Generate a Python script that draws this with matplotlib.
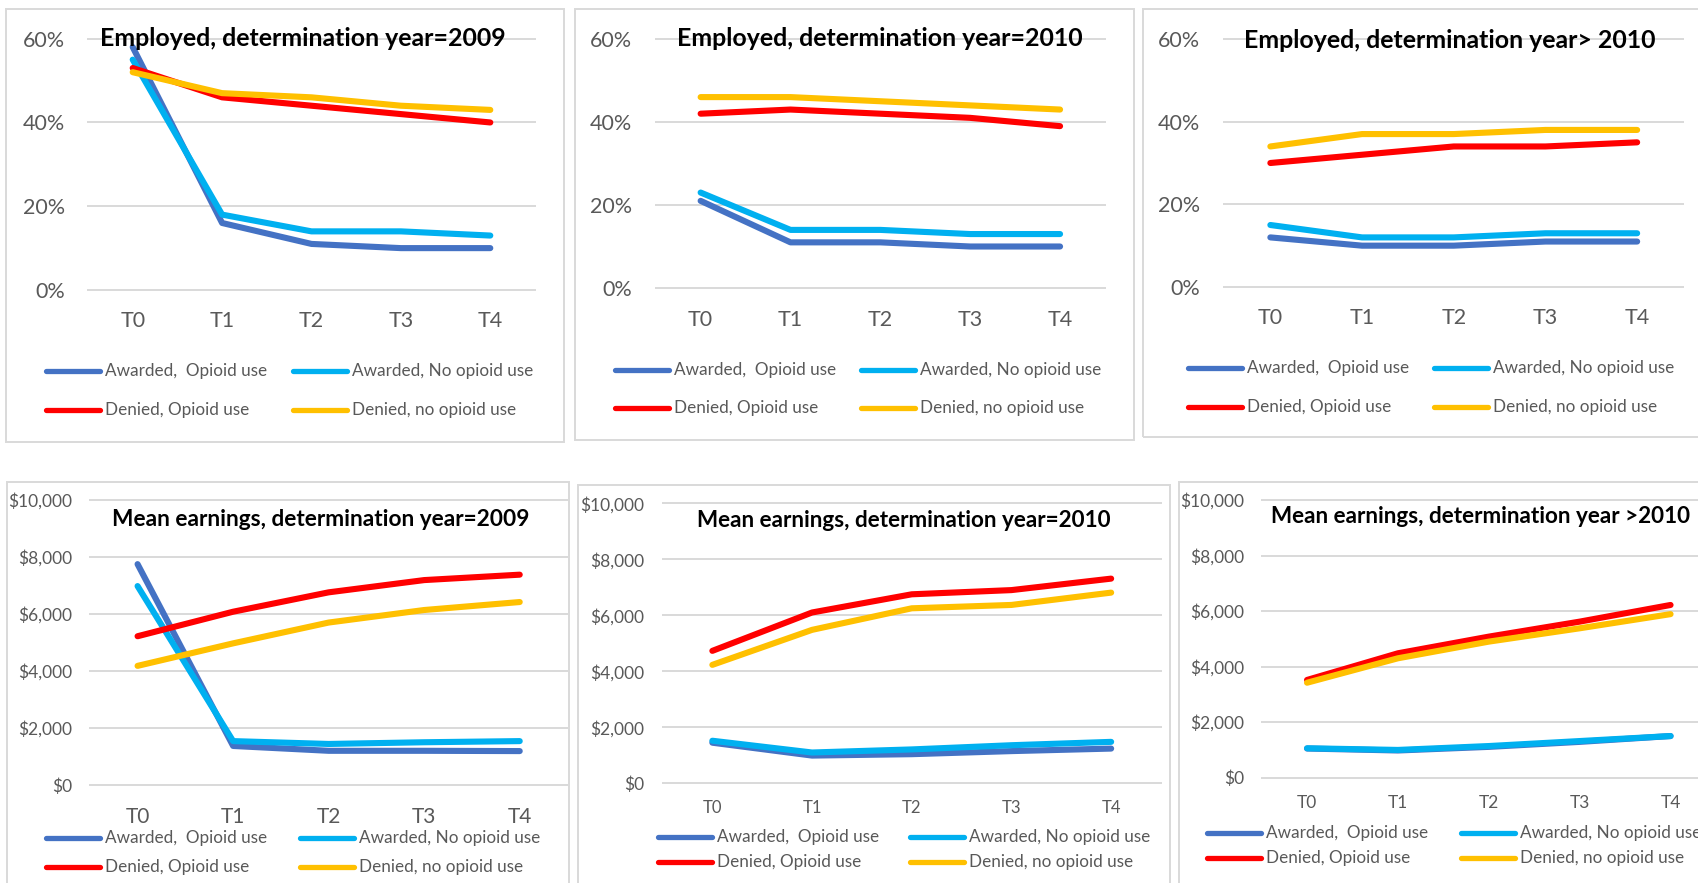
import matplotlib
matplotlib.use('Agg')
import matplotlib.pyplot as plt
from matplotlib.lines import Line2D
from matplotlib.patches import Rectangle

plt.rcParams['font.family'] = ['Lato', 'DejaVu Sans']

W, H = 1699, 883          # canvas size in pixels (dpi = 100)
PT = 0.72                 # points per pixel

periods = ['T0', 'T1', 'T2', 'T3', 'T4']
series_names = ['Awarded,  Opioid use', 'Awarded, No opioid use',
                'Denied, Opioid use', 'Denied, no opioid use']
series_colors = ['#4472C4', '#00B0F0', '#FF0000', '#FFC000']

# rows follow series_names; employment in percent
employed_2009 = [[58, 16, 11, 10, 10],
                 [55, 18, 14, 14, 13],
                 [53, 46, 44, 42, 40],
                 [52, 47, 46, 44, 43]]
employed_2010 = [[21, 11, 11, 10, 10],
                 [23, 14, 14, 13, 13],
                 [42, 43, 42, 41, 39],
                 [46, 46, 45, 44, 43]]
employed_after_2010 = [[12, 10, 10, 11, 11],
                       [15, 12, 12, 13, 13],
                       [30, 32, 34, 34, 35],
                       [34, 37, 37, 38, 38]]

# mean earnings in dollars
earnings_2009 = [[7750, 1370, 1200, 1200, 1190],
                 [6980, 1540, 1440, 1500, 1540],
                 [5220, 6080, 6760, 7190, 7380],
                 [4180, 4970, 5700, 6140, 6420]]
earnings_2010 = [[1450, 990, 1040, 1150, 1240],
                 [1520, 1100, 1210, 1360, 1480],
                 [4730, 6100, 6750, 6900, 7310],
                 [4230, 5480, 6250, 6370, 6810]]
earnings_after_2010 = [[1050, 980, 1110, 1290, 1500],
                       [1060, 1000, 1140, 1320, 1500],
                       [3520, 4480, 5080, 5620, 6220],
                       [3420, 4300, 4900, 5380, 5890]]

pct_ticks = [0, 20, 40, 60]
usd_ticks = [0, 2000, 4000, 6000, 8000, 10000]

GRID = '#D9D9D9'
TEXT = '#595959'

# layout per chart, all in pixels: frame (l, t, r, b), plot area (l, r, top, bottom)
panels = [
    dict(title='Employed, determination year=2009', data=employed_2009, kind='pct',
         frame=(6.5, 9.3, 564, 441.7), plot=(88, 535, 38.7, 290),
         title_xy=(303, 38.5), title_size=17.9, ytick_size=15.5, xtick_size=15.5,
         ypad=23, xpad=21, leg_x=(46.5, 292.6), leg_y=(371, 410)),
    dict(title='Employed, determination year=2010', data=employed_2010, kind='pct',
         frame=(574.8, 9.3, 1134, 440), plot=(655.7, 1105, 39, 288),
         title_xy=(880, 38.5), title_size=17.9, ytick_size=15.5, xtick_size=15.5,
         ypad=24, xpad=22, leg_x=(615.5, 861.5), leg_y=(370, 408)),
    dict(title='Employed, determination year> 2010', data=employed_after_2010, kind='pct',
         frame=(1142.7, 9.3, 1710, 437.3), plot=(1224.5, 1683, 39, 287),
         title_xy=(1450, 40.5), title_size=17.9, ytick_size=15.5, xtick_size=15.5,
         ypad=24, xpad=21, leg_x=(1188, 1434), leg_y=(368, 407)),
    dict(title='Mean earnings, determination year=2009', data=earnings_2009, kind='usd',
         frame=(6.7, 481.7, 569, 900), plot=(89.8, 567.5, 500, 785),
         title_xy=(320.7, 519.5), title_size=16.3, ytick_size=12.5, xtick_size=15,
         ypad=18, xpad=22, leg_x=(46, 299.6), leg_y=(838, 867)),
    dict(title='Mean earnings, determination year=2010', data=earnings_2010, kind='usd',
         frame=(578.4, 485, 1170, 900), plot=(662.5, 1161, 503.3, 783.3),
         title_xy=(904, 520.5), title_size=16.2, ytick_size=12.5, xtick_size=12,
         ypad=18.5, xpad=17, leg_x=(657.6, 910), leg_y=(836.7, 861.7)),
    dict(title='Mean earnings, determination year >2010', data=earnings_after_2010, kind='usd',
         frame=(1179, 481.7, 1710, 900), plot=(1261.6, 1716, 500, 777.7),
         title_xy=(1481, 516.5), title_size=16.2, ytick_size=12.5, xtick_size=12.5,
         ypad=17.6, xpad=17, leg_x=(1207, 1461), leg_y=(833, 858)),
]

fig = plt.figure(figsize=(W / 100, H / 100), dpi=100)
fig.patch.set_facecolor('white')


def fx(x):
    return x / W


def fy(y):
    return 1 - y / H


def draw_legend(p):
    # 2 x 2 legend: awarded on the first row, denied on the second
    handle_len, text_gap = 54, 5
    for i, (name, color) in enumerate(zip(series_names, series_colors)):
        x0 = p['leg_x'][i % 2]
        y = p['leg_y'][i // 2]
        fig.add_artist(Line2D([fx(x0), fx(x0 + handle_len)], [fy(y), fy(y)],
                              transform=fig.transFigure, color=color, lw=3.8,
                              solid_capstyle='round'))
        fig.text(fx(x0 + handle_len + text_gap), fy(y), name, fontsize=12.3,
                 color=TEXT, ha='left', va='center')


for p in panels:
    l, t, r, b = p['frame']
    fig.add_artist(Rectangle((fx(l), fy(b)), fx(r - l), (b - t) / H,
                             transform=fig.transFigure, fill=False,
                             edgecolor=GRID, lw=1.4))

    pl, pr, pt, pb = p['plot']
    ax = fig.add_axes([fx(pl), fy(pb), fx(pr - pl), (pb - pt) / H])
    ax.set_facecolor('none')
    for s in ax.spines.values():
        s.set_visible(False)

    if p['kind'] == 'pct':
        ticks = pct_ticks
        ax.set_yticks(ticks, [f'{v}%' for v in ticks])
    else:
        ticks = usd_ticks
        ax.set_yticks(ticks, [f'${v:,}' for v in ticks])
    ax.set_ylim(ticks[0], ticks[-1])
    ax.set_xlim(-0.5, len(periods) - 0.5)
    ax.set_xticks(range(len(periods)), periods)

    for v in ticks:
        ax.axhline(v, color=GRID, lw=1.4, zorder=0.5, clip_on=False)

    ax.tick_params(length=0, colors=TEXT)
    ax.tick_params(axis='y', labelsize=p['ytick_size'], pad=p['ypad'] * PT)
    ax.tick_params(axis='x', labelsize=p['xtick_size'], pad=p['xpad'] * PT)

    for vals, color in zip(p['data'], series_colors):
        ax.plot(range(len(periods)), vals, color=color, lw=4.4,
                solid_capstyle='round', solid_joinstyle='round',
                clip_on=False, zorder=3)

    tx, ty = p['title_xy']
    fig.text(fx(tx), fy(ty), p['title'], fontsize=p['title_size'],
             fontweight='bold', color='black', ha='center', va='center')

    draw_legend(p)

fig.savefig('out.png', dpi=100)
